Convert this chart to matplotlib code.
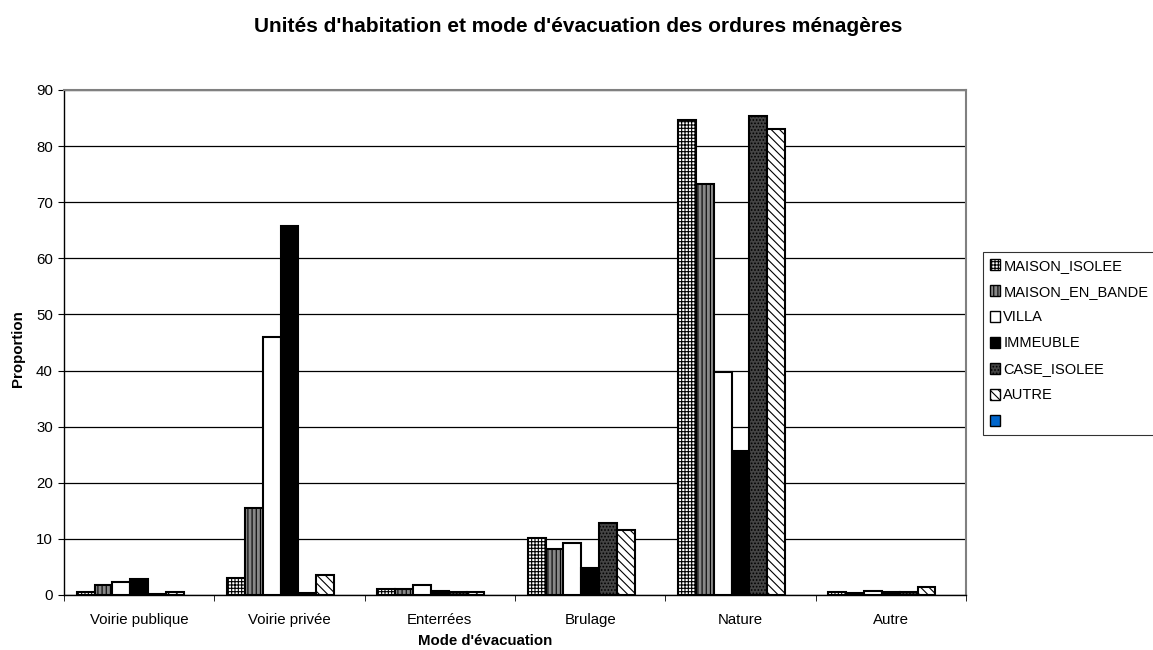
import matplotlib
matplotlib.use("Agg")
import matplotlib.pyplot as plt
import numpy as np
from matplotlib.patches import Patch

plt.rcParams['font.family'] = ['Liberation Sans', 'DejaVu Sans']
plt.rcParams['hatch.linewidth'] = 0.8

categories = ["Voirie publique", "Voirie privée", "Enterrées", "Brulage", "Nature", "Autre"]
series_names = ["MAISON_ISOLEE", "MAISON_EN_BANDE", "VILLA", "IMMEUBLE", "CASE_ISOLEE", "AUTRE", ""]

maison_isolee   = [0.5, 3.1, 1.0, 10.2, 84.6, 0.5]
maison_en_bande = [1.7, 15.5, 1.0, 8.2, 73.2, 0.4]
villa           = [2.4, 46.0, 1.8, 9.3, 39.8, 0.8]
immeuble        = [2.9, 65.7, 0.8, 4.8, 25.7, 0.6]
case_isolee     = [0.2, 0.3, 0.6, 12.9, 85.4, 0.6]
autre           = [0.5, 3.5, 0.6, 11.5, 83.0, 1.5]
vide            = [0, 0, 0, 0, 0, 0]

series = [maison_isolee, maison_en_bande, villa, immeuble, case_isolee, autre, vide]

styles = [
    dict(facecolor="white", hatch="+++++"),
    dict(facecolor="#888888", hatch="||||"),
    dict(facecolor="white", hatch=None),
    dict(facecolor="black", hatch=None),
    dict(facecolor="#444444", hatch="....."),
    dict(facecolor="white", hatch="\\\\\\\\"),
    dict(facecolor="#0066CC", hatch=None),
]

fig = plt.figure(figsize=(11.53, 6.5), dpi=100)
ax = fig.add_axes([64/1153, 1-595/650, (966-64)/1153, (595-90)/650])

n = len(series)
bw = (125.0/150.5) / n
x = np.arange(len(categories))
for i, (vals, st) in enumerate(zip(series, styles)):
    if not any(vals):
        continue
    pos = x - (n*bw)/2 + bw*(i+0.5)
    ax.bar(pos, vals, width=bw, facecolor=st["facecolor"], hatch=st["hatch"],
           edgecolor="black", linewidth=1.5, zorder=3)

ax.set_xlim(-0.5, len(categories)-0.5)
ax.set_ylim(0, 90)
ax.set_yticks(range(0, 91, 10))
ax.set_xticks(x)
ax.set_xticklabels(categories, fontsize=10.8)
ax.set_xticks(np.arange(-0.5, len(categories)), minor=True)
ax.tick_params(axis='x', which='major', length=0, pad=13)
ax.tick_params(axis='x', which='minor', length=4, direction='out', color='black')
ax.tick_params(axis='y', length=4, direction='out', labelsize=10.8, pad=4)
ax.yaxis.grid(True, color='black', linewidth=0.9, zorder=0)
ax.set_axisbelow(True)
for side in ['top', 'right']:
    ax.spines[side].set_color('#808080')
    ax.spines[side].set_linewidth(1.5)
for side in ['left', 'bottom']:
    ax.spines[side].set_color('black')
    ax.spines[side].set_linewidth(1.0)

fig.text(18/1153, 1-349/650, "Proportion", rotation=90, fontsize=10.8,
         fontweight='bold', ha='center', va='center')
fig.text(485/1153, 1-641/650, "Mode d'évacuation", fontsize=10.8,
         fontweight='bold', ha='center', va='center')
fig.text(578/1153, 1-27/650, "Unités d'habitation et mode d'évacuation des ordures ménagères",
         fontsize=15, fontweight='bold', ha='center', va='center')

handles = [Patch(facecolor=st["facecolor"], hatch=st["hatch"], edgecolor='black', linewidth=1.0)
           for st in styles]
leg = fig.legend(handles, series_names, loc='upper left',
                 bbox_to_anchor=(983/1153, 1-252/650), frameon=True, fancybox=False,
                 edgecolor='black', fontsize=10.5, handlelength=0.75, handleheight=0.75,
                 handletextpad=0.2, labelspacing=0.82, borderpad=0.45, borderaxespad=0)
leg.get_frame().set_linewidth(0.8)

fig.savefig("out.png", dpi=100)
